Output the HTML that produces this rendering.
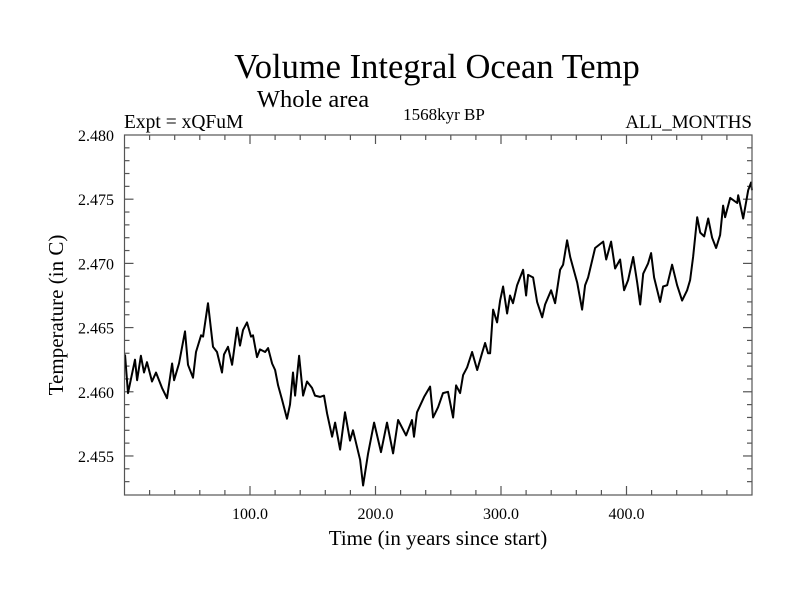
<!DOCTYPE html>
<html><head><meta charset="utf-8"><style>
body{margin:0;background:#fff;}
svg text{font-family:"Liberation Serif",serif;fill:#000;}
</style></head><body>
<svg id="chart" width="800" height="600" xmlns="http://www.w3.org/2000/svg">
<rect width="800" height="600" fill="#fff"/>
<text x="437" y="78" font-size="34.5" text-anchor="middle">Volume Integral Ocean Temp</text>
<text x="313" y="107" font-size="24.5" text-anchor="middle">Whole area</text>
<text x="124" y="128" font-size="19.5">Expt = xQFuM</text>
<text x="444" y="120" font-size="17" text-anchor="middle">1568kyr BP</text>
<text x="752" y="128" font-size="19" text-anchor="end">ALL_MONTHS</text>
<text x="438" y="545" font-size="21" text-anchor="middle">Time (in years since start)</text>
<text transform="translate(63,315) rotate(-90)" font-size="21" text-anchor="middle">Temperature (in C)</text>
<g id="axes"></g>
<path id="series" fill="none" stroke="#000" stroke-width="2" stroke-linejoin="round"/>
<rect x="124.5" y="135" width="627.5" height="360" fill="none" stroke="#555" stroke-width="1.2"/>
</svg>
<script>
const years=[0.4,2.8,8.4,10,13.1,15.5,17.9,21.9,25.1,29.9,33.9,37.9,39.5,43.4,48.2,50.6,54.6,57,61,62.6,66.5,70.5,73.7,77.7,79.3,82.5,85.7,89.7,92,94.4,97.6,100.8,102.4,105.6,108,112,114.4,117.6,120,122.4,125.5,129.5,131.9,134.3,135.9,139.1,142.3,145.4,149.4,151.8,155.8,159,161.4,165.4,167.8,171.8,175.7,179.7,182.1,187.7,190.1,194.1,198.9,204.4,209.2,214,218,224.4,229.1,230.7,233.1,238.7,243.5,245.9,249.9,253.8,257.8,261.8,264.2,267.4,269.8,273,277,281,284.9,287.3,289.7,291.3,293.7,296.9,299.3,301.7,304.9,307.2,309.6,312.8,317.6,320,321.6,325.6,328.8,332.8,335.1,339.9,343.1,347.1,349.5,352.7,355.1,360.7,364.6,367,369.4,375,381.4,383.8,387.7,390.9,394.9,398.1,401.3,405.3,408.5,410.9,413.3,417.2,419.6,422,426.8,429.2,432.4,436.3,440.3,444.3,448.3,450.7,453.1,456.3,458.7,461.9,465.1,468.2,471.4,474.6,477,478.6,482.6,488.2,489,493,497,499.3,500];
const temps=[2.4629,2.4599,2.4625,2.4609,2.4628,2.4615,2.4623,2.4608,2.4615,2.4603,2.4595,2.4622,2.4609,2.4622,2.4647,2.4621,2.4611,2.4631,2.4644,2.4643,2.4669,2.4635,2.4631,2.4615,2.4629,2.4635,2.4621,2.4650,2.4636,2.4648,2.4654,2.4643,2.4644,2.4627,2.4633,2.4631,2.4634,2.4622,2.4617,2.4605,2.4594,2.4579,2.4590,2.4615,2.4597,2.4628,2.4597,2.4608,2.4603,2.4597,2.4596,2.4597,2.4583,2.4565,2.4576,2.4555,2.4584,2.4562,2.4570,2.4547,2.4527,2.4552,2.4576,2.4553,2.4576,2.4552,2.4578,2.4566,2.4578,2.4565,2.4584,2.4596,2.4604,2.4580,2.4588,2.4599,2.4600,2.4580,2.4605,2.4599,2.4613,2.4619,2.4631,2.4617,2.4630,2.4638,2.4630,2.4630,2.4664,2.4654,2.4671,2.4682,2.4661,2.4675,2.4669,2.4683,2.4695,2.4675,2.4691,2.4689,2.4670,2.4658,2.4668,2.4679,2.4669,2.4695,2.4699,2.4718,2.4705,2.4685,2.4664,2.4683,2.4689,2.4712,2.4717,2.4703,2.4717,2.4696,2.4703,2.4679,2.4687,2.4705,2.4685,2.4668,2.4692,2.4700,2.4708,2.4689,2.4670,2.4682,2.4683,2.4699,2.4683,2.4671,2.4679,2.4687,2.4705,2.4736,2.4724,2.4721,2.4735,2.4720,2.4712,2.4722,2.4745,2.4736,2.4751,2.4747,2.4753,2.4735,2.4757,2.4763,2.4757];
const xTickLabels=["100.0","200.0","300.0","400.0"];
const xTickValues=[100,200,300,400];
const yTickLabels=["2.455","2.460","2.465","2.470","2.475","2.480"];
const yTickValues=[2.455,2.460,2.465,2.470,2.475,2.480];
const X0=124.5,X1=752,Y0=495,Y1=135,XMIN=0,XMAX=500,YMIN=2.45196,YMAX=2.480;
function sx(v){return X0+(v-XMIN)/(XMAX-XMIN)*(X1-X0);}
function sy(v){return Y0-(v-YMIN)/(YMAX-YMIN)*(Y0-Y1);}
const NS="http://www.w3.org/2000/svg";
const g=document.getElementById('axes');
function line(x1,y1,x2,y2,name){const l=document.createElementNS(NS,'line');
l.setAttribute('x1',x1);l.setAttribute('y1',y1);l.setAttribute('x2',x2);l.setAttribute('y2',y2);
l.setAttribute('stroke','#555');l.setAttribute('stroke-width','1.2');


g.appendChild(l);}
function text(x,y,s,anchor,name){const t=document.createElementNS(NS,'text');
t.setAttribute('x',x);t.setAttribute('y',y);t.setAttribute('font-size','16');t.setAttribute('text-anchor',anchor);t.textContent=s;


g.appendChild(t);}
for(let v=20;v<XMAX;v+=20){const x=sx(v);const major=(v%100===0);const L=major?9:5;
line(x,Y0,x,Y0-L,'x-tick');line(x,Y1,x,Y1+L,'x-tick-top');}
for(let i=1;i<28;i++){const vv=Math.round((2.452+i*0.001)*1000)/1000;const y=sy(vv);const major=(Math.round(vv*1000)%5===0);const L=major?9:5;
line(X0,y,X0+L,y,'y-tick');line(X1,y,X1-L,y,'y-tick-right');}
xTickValues.forEach((v,i)=>text(sx(v),519,xTickLabels[i],'middle','x-tick-label'));
yTickValues.forEach((v,i)=>text(114,sy(v)+6,yTickLabels[i],'end','y-tick-label'));
let d='';years.forEach((yr,i)=>{d+=(i?'L':'M')+sx(yr).toFixed(1)+','+sy(temps[i]).toFixed(1);});
document.getElementById('series').setAttribute('d',d);
</script>
</body></html>
